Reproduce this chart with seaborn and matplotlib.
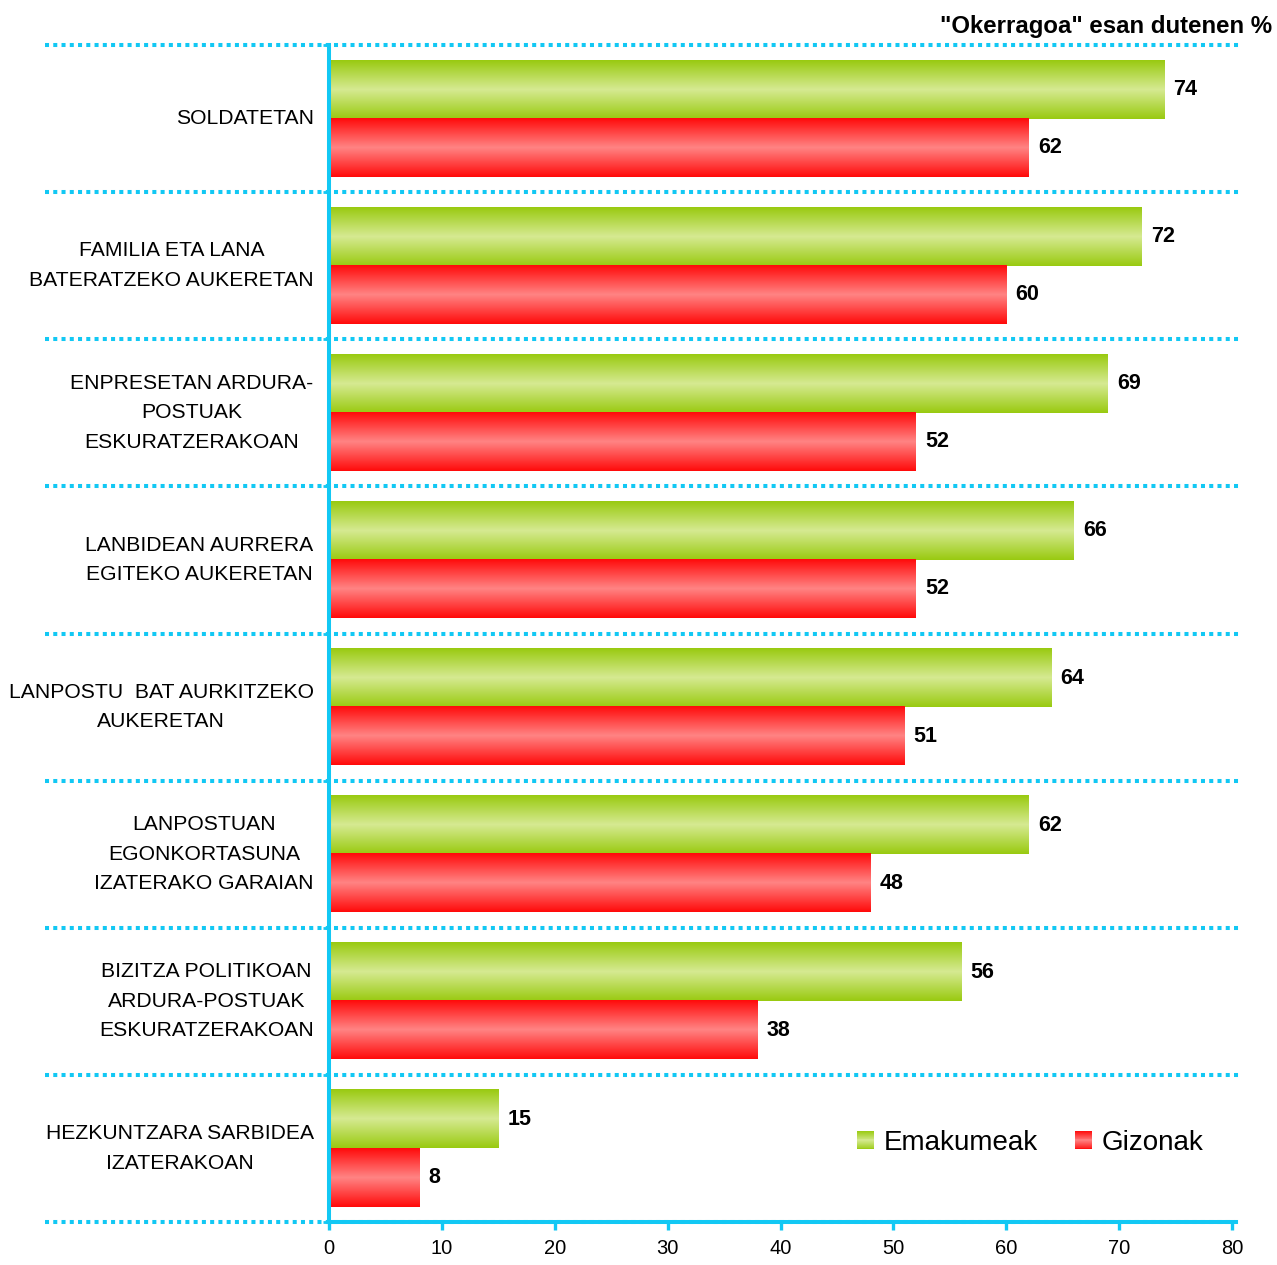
import pandas as pd
import numpy as np
import matplotlib
matplotlib.use('Agg')
import matplotlib.pyplot as plt
import seaborn as sns
from matplotlib.colors import LinearSegmentedColormap
from matplotlib.patches import Patch, Rectangle
from matplotlib.legend_handler import HandlerBase

categories = ['SOLDATETAN',
              'FAMILIA ETA LANA\nBATERATZEKO AUKERETAN',
              'ENPRESETAN ARDURA-\nPOSTUAK\nESKURATZERAKOAN',
              'LANBIDEAN AURRERA\nEGITEKO AUKERETAN',
              'LANPOSTU  BAT AURKITZEKO\nAUKERETAN',
              'LANPOSTUAN\nEGONKORTASUNA\nIZATERAKO GARAIAN',
              'BIZITZA POLITIKOAN\nARDURA-POSTUAK\nESKURATZERAKOAN',
              'HEZKUNTZARA SARBIDEA\nIZATERAKOAN']
emakumeak = [74, 72, 69, 66, 64, 62, 56, 15]
gizonak = [62, 60, 52, 52, 51, 48, 38, 8]
groups = ['Emakumeak', 'Gizonak']
xticks = [0, 10, 20, 30, 40, 50, 60, 70, 80]
title = '"Okerragoa" esan dutenen %'

cyan = '#12C8F4'
green_edge, green_mid = '#99CA10', '#D6EA92'
red_edge, red_mid = '#FF0A0A', '#FF8484'
cmap_g = LinearSegmentedColormap.from_list('g', [green_edge, green_mid, green_edge])
cmap_r = LinearSegmentedColormap.from_list('r', [red_edge, red_mid, red_edge])

df = pd.DataFrame({'cat': categories * 2,
                   'val': emakumeak + gizonak,
                   'grp': [groups[0]] * 8 + [groups[1]] * 8})

sns.set_style('white')
plt.rcParams['font.family'] = ['Liberation Sans', 'DejaVu Sans']
plt.rcParams['text.color'] = 'black'
plt.rcParams['xtick.color'] = 'black'
plt.rcParams['ytick.color'] = 'black'
plt.rcParams['xtick.labelcolor'] = 'black'
plt.rcParams['ytick.labelcolor'] = 'black'

fig = plt.figure(figsize=(12.77, 12.65), dpi=100)
ax = fig.add_axes([329 / 1277, 43 / 1265, 903 / 1277, 1177 / 1265])

sns.barplot(data=df, y='cat', x='val', hue='grp', orient='h',
            palette=[green_edge, red_edge], width=0.79, ax=ax, legend=False)

# gradient fill for every bar
grad = np.linspace(0, 1, 256).reshape(-1, 1)
for cont, cm in zip(ax.containers, [cmap_g, cmap_r]):
    for bar in cont:
        x0, y0 = bar.get_x(), bar.get_y()
        w, h = bar.get_width(), bar.get_height()
        bar.set_facecolor('none')
        bar.set_edgecolor('none')
        ax.imshow(grad, extent=[x0, x0 + w, y0 + h, y0], aspect='auto',
                  cmap=cm, zorder=2, interpolation='bilinear')
        ax.text(x0 + w + 0.8, y0 + h / 2, f'{int(w)}', va='center', ha='left',
                fontsize=15.5, fontweight='bold', color='black')

ax.set_xlim(0, 80)
ax.set_ylim(len(categories) - 0.5, -0.5)
ax.set_xticks(xticks)
ax.set_xlabel('')
ax.set_ylabel('')

for i in range(len(categories) + 1):
    ax.axhline(i - 0.5, xmin=-0.314, xmax=1.009, color=cyan, lw=2.9,
               dashes=(1.0, 1.05), dash_capstyle='butt', clip_on=False, zorder=1)

for s in ['top', 'right']:
    ax.spines[s].set_visible(False)
for s in ['left', 'bottom']:
    ax.spines[s].set_color(cyan)
    ax.spines[s].set_linewidth(2.9)
    ax.spines[s].set_zorder(5)

ax.tick_params(axis='x', direction='out', length=6, width=2.4, color=cyan,
               labelsize=14.5, pad=6, bottom=True, labelcolor='black')
ax.tick_params(axis='y', which='major', length=0, labelsize=15.2, pad=11,
               labelcolor='black')
ax.set_yticks([i - 0.5 for i in range(len(categories) + 1)], minor=True)
ax.tick_params(axis='y', which='minor', direction='out', length=4, width=2,
               color=cyan, left=True)
for lab in ax.get_yticklabels():
    lab.set_multialignment('center')
    lab.set_linespacing(1.7)
    lab.set_verticalalignment('center')

fig.text(1272 / 1277, 1 - 26 / 1265, title, ha='right', va='center',
         fontsize=17.3, fontweight='bold', color='black')


class GradHandler(HandlerBase):
    def __init__(self, cm):
        super().__init__()
        self.cm = cm

    def create_artists(self, legend, orig_handle, xdescent, ydescent,
                       width, height, fontsize, trans):
        n = 20
        arts = []
        for k in range(n):
            c = self.cm((k + 0.5) / n)
            arts.append(Rectangle((-xdescent, -ydescent + height * k / n),
                                  width, height / n + 0.2, facecolor=c,
                                  edgecolor='none', transform=trans))
        return arts


h_g = Patch(label=groups[0])
h_r = Patch(label=groups[1])
leg = ax.legend(handles=[h_g, h_r],
                handler_map={h_g: GradHandler(cmap_g), h_r: GradHandler(cmap_r)},
                loc='center left', bbox_to_anchor=(0.585, 0.067), ncol=2, frameon=False,
                fontsize=20, handlelength=0.62, handleheight=0.62, handletextpad=0.35,
                columnspacing=1.3, borderpad=0, borderaxespad=0)
for t in leg.get_texts():
    t.set_color('black')

fig.savefig('out.png', dpi=100)
